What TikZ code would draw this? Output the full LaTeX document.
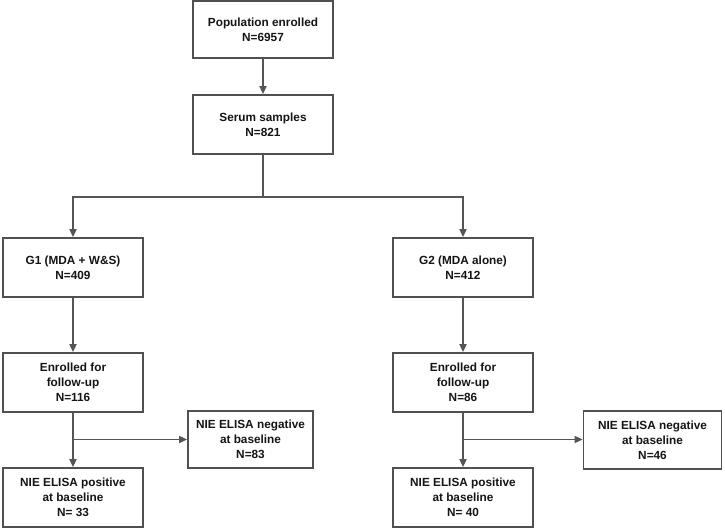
\documentclass[tikz,border=0pt]{standalone}
\usepackage{fontspec}
\setmainfont{Liberation Sans}
\usetikzlibrary{arrows.meta}
\definecolor{boxc}{HTML}{505050}
\definecolor{arrc}{HTML}{555555}
\definecolor{txtc}{HTML}{151515}
\begin{document}
\begin{tikzpicture}[x=1pt,y=-1pt,
  fbox/.style={draw=boxc, line width=1.8pt, fill=white, inner sep=0pt, align=center,
    text=txtc, font=\fontsize{11.8}{14.8}\selectfont\bfseries},
  arr/.style={draw=arrc, line width=1.8pt, -{Triangle[length=8pt,width=7pt]}},
  ln/.style={draw=arrc, line width=1.8pt}]
\useasboundingbox (0,0) rectangle (725,529);
\node[fbox, minimum width=140pt, minimum height=57pt] (pop) at (263,29.5) {Population enrolled\\N=6957};
\node[fbox, minimum width=140pt, minimum height=59pt] (ser) at (263,124.5) {Serum samples\\N=821};
\node[fbox, minimum width=140pt, minimum height=59pt] (g1) at (73,267.5) {G1 (MDA + W\&S)\\N=409};
\node[fbox, minimum width=140pt, minimum height=59pt] (g2) at (463,267.5) {G2 (MDA alone)\\N=412};
\node[fbox, minimum width=140pt, minimum height=59pt] (e1) at (73,382.5) {Enrolled for\\follow-up\\N=116};
\node[fbox, minimum width=140pt, minimum height=59pt] (e2) at (463,382.5) {Enrolled for\\follow-up\\N=86};
\node[fbox, minimum width=125pt, minimum height=57pt] (n1) at (250.5,439.5) {NIE ELISA negative\\at baseline\\N=83};
\node[fbox, minimum width=138pt, minimum height=58pt] (n2) at (652.5,440) {NIE ELISA negative\\at baseline\\N=46};
\node[fbox, minimum width=140pt, minimum height=59pt] (p1) at (73,497.5) {NIE ELISA positive\\at baseline\\N= 33};
\node[fbox, minimum width=140pt, minimum height=59pt] (p2) at (463,497.5) {NIE ELISA positive\\at baseline\\N= 40};
\coordinate (split) at (263,197);
\coordinate (b1) at (73,439.5);
\coordinate (b2) at (463,439.5);
\draw[arr] (pop) -- (ser);
\draw[ln] (ser) -- (split);
\draw[arr] (split) -| (g1);
\draw[arr] (split) -| (g2);
\draw[arr] (g1) -- (e1);
\draw[arr] (g2) -- (e2);
\draw[arr] (e1) -- (p1);
\draw[arr] (e2) -- (p2);
\draw[arr] (b1) -- (n1.west |- b1);
\draw[arr] (b2) -- (n2.west |- b2);
\end{tikzpicture}
\end{document}
